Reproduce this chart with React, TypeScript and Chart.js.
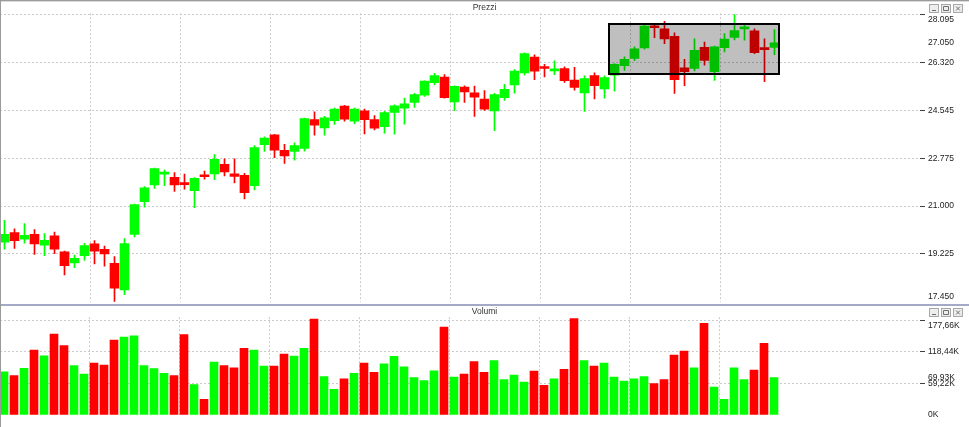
import React, { useEffect, useRef } from 'react';
import { Chart, registerables } from 'chart.js';

Chart.register(...registerables);

// ---- data ----
const OPEN = [
  19.66, 20.02, 19.77, 19.95, 19.55, 19.9, 19.3, 18.89, 19.16, 19.6,
  19.4, 18.88, 17.89, 19.95, 21.17, 21.79, 22.19, 22.07, 21.83, 21.57,
  22.16, 22.2, 22.55, 22.2, 22.14, 21.76, 23.28, 23.65, 23.07, 23.03,
  23.14, 24.21, 23.9, 24.17, 24.71, 24.15, 24.54, 24.21, 23.95, 24.48,
  24.64, 24.85, 25.12, 25.58, 25.79, 24.87, 25.42, 25.21, 24.97, 24.53,
  25.03, 25.5, 25.94, 26.53, 26.16, 26.02, 26.11, 25.68, 25.2, 25.85,
  25.35, 25.86, 26.21, 26.48, 26.87, 27.67, 27.58, 27.3, 26.13, 26.11,
  26.89, 25.99, 26.88, 27.26, 27.58, 27.51, 26.86, 26.89,
];
const HIGH = [
  20.47, 20.16, 20.35, 20.13, 19.98, 20.04, 19.33, 19.18, 19.62, 19.72,
  19.52, 19.13, 19.8, 21.08, 21.73, 22.41, 22.34, 22.25, 22.19, 22.06,
  22.3, 22.91, 22.76, 22.76, 22.22, 23.25, 23.57, 23.67, 23.29, 23.35,
  24.27, 24.5, 24.33, 24.64, 24.74, 24.64, 24.6, 24.36, 24.52, 24.76,
  25.01, 25.19, 25.65, 25.93, 25.88, 25.47, 25.47, 25.46, 25.29, 25.19,
  25.52, 26.07, 26.69, 26.62, 26.26, 26.39, 26.17, 26.15, 25.84, 25.95,
  25.84, 26.29, 26.54, 26.91, 27.73, 27.74, 27.86, 27.43, 26.45, 27.21,
  27.09, 26.94, 27.4, 28.11, 27.76, 27.58, 27.21, 27.55,
];
const LOW = [
  19.4, 19.43, 19.63, 19.21, 19.16, 19.24, 18.45, 18.72, 18.99, 18.86,
  18.77, 17.43, 17.71, 19.86, 20.96, 21.66, 21.76, 21.55, 21.63, 20.94,
  22.0, 21.98, 22.12, 21.86, 21.27, 21.6, 23.03, 22.8, 22.59, 22.71,
  23.04, 23.63, 23.63, 24.03, 24.15, 24.06, 23.68, 23.83, 23.71, 23.67,
  24.04, 24.66, 25.07, 25.5, 25.01, 24.54, 24.85, 24.33, 24.55, 23.8,
  24.92, 25.19, 25.86, 25.69, 25.8, 25.88, 25.59, 25.3, 24.52, 24.98,
  25.01, 25.27, 26.04, 26.4, 26.83, 27.25, 27.03, 25.18, 25.47, 26.02,
  26.23, 25.67, 26.72, 27.17, 27.16, 26.66, 25.62, 26.62,
];
const CLOSE = [
  19.95, 19.72, 19.92, 19.6, 19.73, 19.4, 18.79, 19.06, 19.54, 19.33,
  19.23, 17.96, 19.61, 21.06, 21.68, 22.39, 22.21, 21.79, 21.8, 22.03,
  22.09, 22.74, 22.27, 22.1, 21.5, 23.17, 23.53, 23.08, 22.86, 23.25,
  24.25, 24.01, 24.28, 24.6, 24.23, 24.6, 24.21, 23.89, 24.47, 24.72,
  24.8, 25.14, 25.64, 25.85, 25.03, 25.45, 25.24, 25.04, 24.6, 25.14,
  25.34, 26.01, 26.66, 26.01, 26.11, 26.05, 25.66, 25.41, 25.73, 25.47,
  25.77, 26.26, 26.45, 26.84, 27.68, 27.62, 27.21, 25.69, 25.99, 26.78,
  26.41, 26.91, 27.2, 27.52, 27.6, 26.7, 26.81, 27.06,
];
// volumes in thousands
const VOLUME = [
  81.1, 73.7, 87.5, 121.8, 111.1, 151.8, 129.9, 92.4, 76.8, 97.5,
  93.7, 140.6, 146.2, 148.6, 92.4, 86.8, 78.1, 73.7, 150.5, 56.8,
  29.4, 99.3, 92.4, 88.6, 125.0, 121.8, 91.8, 91.8, 114.3, 110.6,
  125.0, 179.9, 71.8, 48.2, 68.0, 78.1, 97.5, 80.0, 96.1, 110.0,
  90.5, 69.9, 64.3, 83.0, 164.9, 71.2, 76.8, 99.9, 80.0, 101.8,
  66.2, 75.0, 61.8, 82.5, 55.7, 68.0, 85.6, 180.5, 101.8, 91.8,
  97.5, 71.2, 63.7, 68.0, 71.8, 58.7, 66.2, 112.4, 119.9, 88.6,
  171.9, 52.5, 29.4, 88.6, 66.2, 84.3, 134.4, 69.93,
];
const PRICE_TICKS = [17.45, 19.225, 21.0, 22.775, 24.545, 26.32, 27.05, 28.095];
const PRICE_NO_GRID = [17.45, 27.05];
const VOLUME_TICKS = [0, 59.22, 69.93, 118.44, 177.66];
const VOLUME_NO_GRID = [0, 69.93];
const X_GRID = [8.57, 17.57, 26.57, 35.57, 44.57, 53.57, 62.57, 71.57];
const ZOOM_BOX = { from: 60.48, to: 77.45, low: 25.89, high: 27.755 };

// ---- styles ----
const GREEN = '#00ff00';
const RED = '#ff0000';
const GRID = '#cacaca';
const TICK = '#404040';
const TEXT = '#222222';
const FONT = "'Liberation Sans', Arial, sans-serif";
const W = 969;
const AXIS_W = 49;

const near = (a: number, list: number[]) => list.some((v) => Math.abs(v - a) < 1e-6);

function drawButtons(ctx: CanvasRenderingContext2D, y: number) {
  const xs = [929, 941, 953];
  ctx.save();
  xs.forEach((x, k) => {
    ctx.fillStyle = '#eeeeee';
    ctx.fillRect(x, y, 10, 9);
    ctx.strokeStyle = '#a8a8a8';
    ctx.lineWidth = 1;
    ctx.strokeRect(x + 0.5, y + 0.5, 9, 8);
    ctx.strokeStyle = '#707070';
    ctx.beginPath();
    if (k === 0) {
      ctx.moveTo(x + 3, y + 6.5);
      ctx.lineTo(x + 7, y + 6.5);
    } else if (k === 1) {
      ctx.rect(x + 2.5, y + 2.5, 5, 4);
    } else {
      ctx.moveTo(x + 3, y + 2.5);
      ctx.lineTo(x + 7, y + 6.5);
      ctx.moveTo(x + 7, y + 2.5);
      ctx.lineTo(x + 3, y + 6.5);
    }
    ctx.stroke();
  });
  ctx.restore();
}

const pricePlugin = {
  id: 'priceChrome',
  beforeDraw(chart: any) {
    const ctx = chart.ctx as CanvasRenderingContext2D;
    ctx.save();
    ctx.fillStyle = '#ffffff';
    ctx.fillRect(0, 0, chart.width, chart.height);
    ctx.restore();
  },
  afterDatasetsDraw(chart: any) {
    const ctx = chart.ctx as CanvasRenderingContext2D;
    const xs = chart.scales.x;
    const ys = chart.scales.y;
    const x0 = Math.round(xs.getPixelForValue(ZOOM_BOX.from));
    const x1 = Math.round(xs.getPixelForValue(ZOOM_BOX.to));
    const y0 = Math.round(ys.getPixelForValue(ZOOM_BOX.high));
    const y1 = Math.round(ys.getPixelForValue(ZOOM_BOX.low));
    ctx.save();
    ctx.fillStyle = 'rgba(0,0,0,0.25)';
    ctx.fillRect(x0, y0, x1 - x0, y1 - y0);
    ctx.strokeStyle = '#000000';
    ctx.lineWidth = 2;
    ctx.strokeRect(x0, y0, x1 - x0, y1 - y0);
    ctx.restore();
  },
  afterDraw(chart: any) {
    const ctx = chart.ctx as CanvasRenderingContext2D;
    ctx.save();
    ctx.fillStyle = '#dcdcdc';
    ctx.fillRect(0, 0, chart.width, 2);
    ctx.fillStyle = '#9a9a9a';
    ctx.fillRect(0, 0, chart.width, 1);
    ctx.fillRect(0, 0, 1, chart.height);
    ctx.restore();
    drawButtons(ctx, 4);
  },
};

const volumePlugin = {
  id: 'volumeChrome',
  beforeDraw(chart: any) {
    const ctx = chart.ctx as CanvasRenderingContext2D;
    ctx.save();
    ctx.fillStyle = '#ffffff';
    ctx.fillRect(0, 0, chart.width, chart.height);
    ctx.restore();
  },
  afterDraw(chart: any) {
    const ctx = chart.ctx as CanvasRenderingContext2D;
    ctx.save();
    ctx.fillStyle = '#a3aac6';
    ctx.fillRect(0, 0, chart.width, 2);
    ctx.fillStyle = '#9a9a9a';
    ctx.fillRect(0, 0, 1, chart.height);
    ctx.restore();
    drawButtons(ctx, 4);
  },
};

function xScale(min: number, max: number) {
  return {
    type: 'linear' as const,
    min,
    max,
    offset: false,
    grid: { offset: false, color: GRID, drawTicks: false, lineWidth: 1 },
    border: { display: false, dash: [2, 2] },
    ticks: { display: false },
    afterBuildTicks: (s: any) => {
      s.ticks = X_GRID.map((v) => ({ value: v }));
    },
  };
}

export default function App() {
  const priceRef = useRef<HTMLCanvasElement>(null);
  const volRef = useRef<HTMLCanvasElement>(null);

  useEffect(() => {
    document.body.style.margin = '0';
    document.body.style.overflow = 'hidden';
    const colors = OPEN.map((o, i) => (CLOSE[i] >= o ? GREEN : RED));

    const price = new Chart(priceRef.current as HTMLCanvasElement, {
      type: 'bar',
      data: {
        datasets: [
          {
            label: 'Corpo',
            data: OPEN.map((o, i) => ({ x: i, y: [Math.min(o, CLOSE[i]), Math.max(o, CLOSE[i])] })) as any,
            backgroundColor: colors,
            barThickness: 9,
            minBarLength: 2,
            grouped: false,
            order: 0,
          },
          {
            label: 'Ombra',
            data: LOW.map((l, i) => ({ x: i, y: [l, HIGH[i]] })) as any,
            backgroundColor: colors,
            barThickness: 1,
            grouped: false,
            order: 1,
          },
        ],
      },
      options: {
        responsive: false,
        animation: false,
        events: [],
        layout: { padding: { left: 0, right: 0, top: 0, bottom: 11 } },
        plugins: {
          legend: { display: false },
          tooltip: { enabled: false },
          title: {
            display: true,
            text: 'Prezzi',
            color: '#333333',
            font: { family: FONT, size: 8.5, weight: 'normal' },
            padding: { top: 2, bottom: 0 },
          },
        },
        scales: {
          x: xScale(-0.45, 91.55) as any,
          y: {
            position: 'right',
            min: 17.45,
            max: 28.161,
            beginAtZero: false,
            grid: {
              color: (c: any) => (c.tick && near(c.tick.value, PRICE_NO_GRID) ? 'rgba(0,0,0,0)' : GRID),
              tickColor: (c: any) => (c.tick && near(c.tick.value, PRICE_NO_GRID) ? 'rgba(0,0,0,0)' : TICK),
              tickLength: 5,
              tickBorderDash: [],
            },
            border: { display: false, dash: [2, 2] },
            ticks: {
              autoSkip: false,
              padding: 3,
              color: TEXT,
              font: { family: FONT, size: 8.5 },
              callback: (v: any, i: number, arr: any[]) => {
                const s = Number(v).toFixed(3);
                if (i === arr.length - 1) return ['', s];
                if (i === 0) return [s, ''];
                return s;
              },
            },
            afterBuildTicks: (s: any) => {
              s.ticks = PRICE_TICKS.map((v) => ({ value: v }));
            },
            afterFit: (s: any) => {
              s.width = AXIS_W;
            },
          } as any,
        },
      },
      plugins: [pricePlugin],
    });

    const volume = new Chart(volRef.current as HTMLCanvasElement, {
      type: 'bar',
      data: {
        datasets: [
          {
            label: 'Volumi',
            data: VOLUME.map((v, i) => ({ x: i, y: v })) as any,
            backgroundColor: colors,
            barThickness: 8,
            grouped: false,
          },
        ],
      },
      options: {
        responsive: false,
        animation: false,
        events: [],
        layout: { padding: { left: 0, right: 0, top: 0, bottom: 12 } },
        plugins: {
          legend: { display: false },
          tooltip: { enabled: false },
          title: {
            display: true,
            text: 'Volumi',
            color: '#333333',
            font: { family: FONT, size: 8.5, weight: 'normal' },
            padding: { top: 3, bottom: 0 },
          },
        },
        scales: {
          x: xScale(-0.4, 91.6) as any,
          y: {
            position: 'right',
            min: 0,
            max: 183.3,
            grid: {
              color: (c: any) => (c.tick && near(c.tick.value, VOLUME_NO_GRID) ? 'rgba(0,0,0,0)' : GRID),
              tickColor: (c: any) => (c.tick && near(c.tick.value, VOLUME_NO_GRID) ? 'rgba(0,0,0,0)' : TICK),
              tickLength: 5,
              tickBorderDash: [],
            },
            border: { display: false, dash: [2, 2] },
            ticks: {
              autoSkip: false,
              padding: 3,
              color: TEXT,
              font: { family: FONT, size: 8.5 },
              callback: (v: any, i: number, arr: any[]) => {
                const n = Number(v);
                const s = n === 0 ? '0K' : n.toFixed(2).replace('.', ',') + 'K';
                if (i === arr.length - 1) return ['', s];
                return s;
              },
            },
            afterBuildTicks: (s: any) => {
              s.ticks = VOLUME_TICKS.map((v) => ({ value: v }));
            },
            afterFit: (s: any) => {
              s.width = AXIS_W;
            },
          } as any,
        },
      },
      plugins: [volumePlugin],
    });

    return () => {
      price.destroy();
      volume.destroy();
    };
  }, []);

  return (
    <div style={{ position: 'fixed', left: 0, top: 0, width: W, height: 427, background: '#ffffff', overflow: 'hidden' }}>
      <canvas ref={priceRef} width={W} height={315} style={{ position: 'absolute', left: 0, top: 0, width: W, height: 315 }} />
      <canvas ref={volRef} width={W} height={123} style={{ position: 'absolute', left: 0, top: 304, width: W, height: 123 }} />
    </div>
  );
}
